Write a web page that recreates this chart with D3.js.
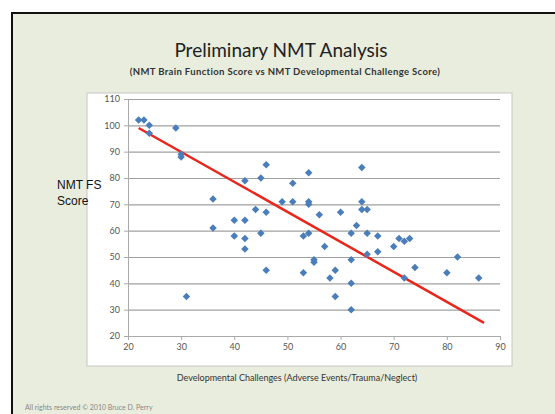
<!DOCTYPE html>
<html><head><meta charset="utf-8">
<script src="https://cdn.jsdelivr.net/npm/d3@7"></script>
<style>html,body{margin:0;padding:0;background:#fff;}svg{display:block;}</style>
</head><body>
<svg id="c" width="555" height="414"></svg>
<script>
const xValues = [22,23,24,24,29,30,30,31,36,36,40,40,42,42,42,42,44,45,45,46,46,46,49,51,51,53,53,54,54,54,54,55,55,56,57,58,59,59,60,62,62,62,62,63,64,64,64,65,65,65,67,67,70,71,72,73,72,74,80,82,86];
const yValues = [102,102,100,97,99,89,88,35,72,61,64,58,79,64,57,53,68,80,59,85,67,45,71,78,71,58,44,82,71,70,59,49,48,66,54,42,45,35,67,59,49,40,30,62,84,71,68,68,59,51,58,52,54,57,56,57,42,46,44,50,42];
const trendX = [22,87];
const trendY = [99,25];
const xTicks = [20,30,40,50,60,70,80,90];
const yTicks = [20,30,40,50,60,70,80,90,100,110];
const titleText = "Preliminary NMT Analysis";
const subtitleText = "(NMT Brain Function Score vs NMT Developmental Challenge Score)";
const yTitle = ["NMT FS","Score"];
const xTitle = "Developmental Challenges (Adverse Events/Trauma/Neglect)";
const footer = "All rights reserved \u00A9 2010 Bruce D. Perry";

const svg = d3.select("#c");
svg.append("rect").attr("x",12).attr("y",13).attr("width",560).attr("height",420)
  .attr("fill","#e9eddd").attr("stroke","#111").attr("stroke-width",2);
svg.append("rect").attr("x",87).attr("y",93).attr("width",425).attr("height",273)
  .attr("fill","#fff").attr("stroke","#c8c8c8").attr("stroke-width",1);

const x = d3.scaleLinear().domain([20,90]).range([128,500]);
const y = d3.scaleLinear().domain([20,110]).range([336,99]);

// gridlines
svg.append("g").selectAll("line").data(yTicks.filter(t=>t>20)).join("line")
  .attr("x1",x(20)).attr("x2",x(90)).attr("y1",d=>y(d)+0.5).attr("y2",d=>y(d)+0.5)
  .attr("stroke","#a0a0a0").attr("stroke-width",1.1);

const fontT = "Lato, 'Open Sans', sans-serif";
const yAxis = d3.axisLeft(y).tickValues(yTicks).tickSize(4).tickPadding(4);
const gy = svg.append("g").attr("transform",`translate(${x(20)},0)`).call(yAxis);
const xAxis = d3.axisBottom(x).tickValues(xTicks).tickSize(4).tickPadding(4);
const gx = svg.append("g").attr("transform",`translate(0,${y(20)})`).call(xAxis);
[gx,gy].forEach(g=>{
  g.select(".domain").attr("stroke","#aaa");
  g.selectAll(".tick line").attr("stroke","#aaa");
  g.selectAll("text").attr("fill","#555").attr("font-family",fontT).attr("font-size",9);
});

// trend line
svg.append("line").attr("x1",x(trendX[0])).attr("y1",y(trendY[0]))
  .attr("x2",x(trendX[1])).attr("y2",y(trendY[1]))
  .attr("stroke","#e8261c").attr("stroke-width",2.5);

// points
const pts = xValues.map((v,i)=>({x:v,y:yValues[i]}));
svg.append("g").selectAll("path").data(pts).join("path")
  .attr("d",d3.symbol(d3.symbolDiamond2,36)())
  .attr("transform",d=>`translate(${x(d.x)},${y(d.y)})`)
  .attr("fill","#4a7ebb");

// texts
svg.append("text").attr("x",281).attr("y",57).attr("text-anchor","middle")
  .attr("font-family",fontT).attr("font-size",19).attr("fill","#222").text(titleText);
svg.append("text").attr("x",285).attr("y",75).attr("text-anchor","middle")
  .attr("font-family",fontT).attr("font-size",9.5).attr("font-weight","bold")
  .attr("letter-spacing",0.35).attr("fill","#333").text(subtitleText);
yTitle.forEach((t,i)=>svg.append("text").attr("x",57).attr("y",189+i*16)
  .attr("font-family","'Liberation Sans', Arial, sans-serif").attr("font-size",12).attr("fill","#111").text(t));
svg.append("text").attr("x",297).attr("y",381).attr("text-anchor","middle")
  .attr("font-family",fontT).attr("font-size",9).attr("fill","#333").text(xTitle);
svg.append("text").attr("x",25).attr("y",410)
  .attr("font-family",fontT).attr("font-size",7).attr("fill","#888").text(footer);
</script>
</body></html>
